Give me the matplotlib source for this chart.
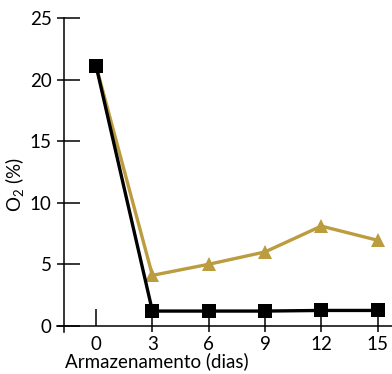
import matplotlib
matplotlib.use("Agg")
import matplotlib.pyplot as plt

plt.rcParams["font.family"] = ["Lato", "DejaVu Sans"]
plt.rcParams["mathtext.fontset"] = "custom"
plt.rcParams["mathtext.rm"] = "Lato"
plt.rcParams["mathtext.it"] = "Lato"

dias = [0, 3, 6, 9, 12, 15]
o2_preto = [21.1, 1.2, 1.2, 1.2, 1.25, 1.25]
o2_dourado = [21.1, 4.1, 5.0, 6.0, 8.1, 6.95]
xticks = [0, 3, 6, 9, 12, 15]
yticks = [0, 5, 10, 15, 20, 25]

gold = "#bb9c3f"

fig = plt.figure(figsize=(3.92, 3.74), dpi=100)
ax = fig.add_axes([0.1454, 0.1123, 0.8546, 0.8396])

ax.plot(dias, o2_dourado, color=gold, lw=2.4, marker="^", ms=10,
        markeredgewidth=0, zorder=3)
ax.plot(dias, o2_preto, color="black", lw=2.4, marker="s", ms=9.4,
        markeredgewidth=0, zorder=4)

ax.set_xlim(-2.085, 15.77)
ax.set_ylim(-0.5, 25)

for s in ["top", "right"]:
    ax.spines[s].set_visible(False)
ax.spines["left"].set_position(("data", -1.7))
ax.spines["bottom"].set_position(("data", 0))
ax.spines["left"].set_linewidth(1.1)
ax.spines["bottom"].set_linewidth(1.1)

ax.set_xticks(xticks)
ax.set_yticks(yticks)
ax.xaxis.remove_overlapping_locs = False
ax.yaxis.remove_overlapping_locs = False
ax.set_xticks(xticks[1:], minor=True)
ax.set_yticks(yticks, minor=True)

ax.tick_params(axis="x", which="major", direction="in", length=12.5,
               width=1.1, labelsize=13.5, pad=7)
ax.tick_params(axis="x", which="minor", direction="out", length=4, width=1.1)
ax.tick_params(axis="y", which="major", direction="in", length=11.5,
               width=1.1, labelsize=13.5, pad=9)
ax.tick_params(axis="y", which="minor", direction="out", length=5, width=1.1)

fig.text(0.166, 0.018, "Armazenamento (dias)", fontsize=13.5, ha="left",
         va="baseline")
fig.text(0.038, 0.505, "O$_2$ (%)", fontsize=13.5, rotation=90,
         ha="center", va="center")

fig.savefig("out.png", dpi=100)
